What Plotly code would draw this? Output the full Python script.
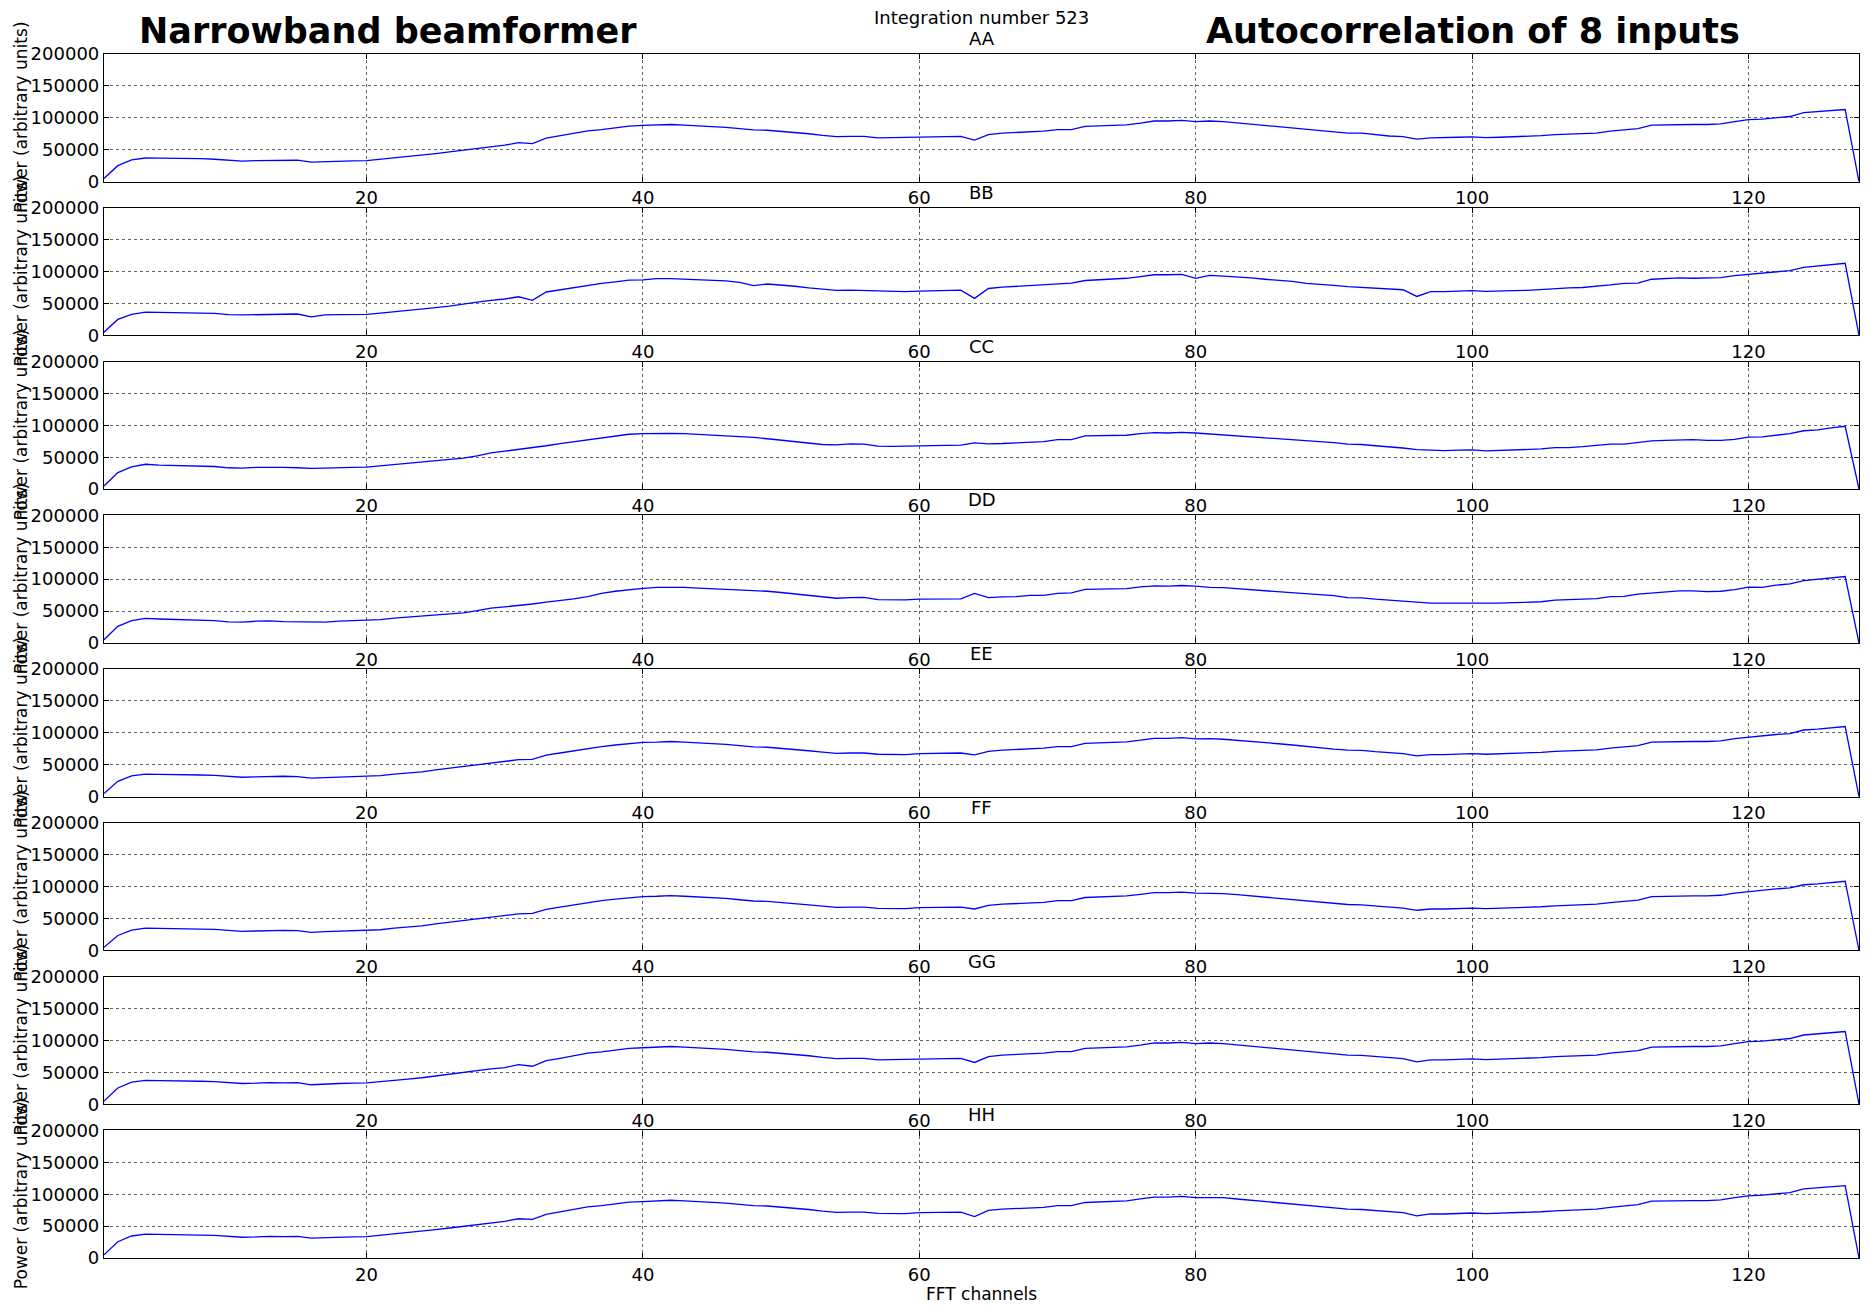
import plotly.graph_objects as go

channels = list(range(1, 129))
input_names = ["AA", "BB", "CC", "DD", "EE", "FF", "GG", "HH"]
y_ticks = [0, 50000, 100000, 150000, 200000]
x_ticks = [20, 40, 60, 80, 100, 120]

AA = [5000, 25000, 34000, 37000, 36800, 36800, 36000, 36000, 35000, 33000, 32000, 33000, 33500, 33500, 33500, 30500,
      31500, 32000, 32500, 33000, 35000, 37500, 39000, 41000, 44000, 46500, 49000, 52500, 55000, 57000, 61000, 59500,
      68000, 71500, 75000, 79500, 81500, 84000, 87000, 88000, 88500, 89500, 88500, 87500, 86500, 85000, 83000, 81000,
      80500, 79000, 77500, 75000, 72500, 70500, 71000, 71000, 68500, 69000, 68500, 70000, 70000, 70500, 71000, 65000,
      73500, 76000, 77000, 79000, 79000, 81500, 81500, 86500, 87000, 88000, 89000, 91500, 95000, 95000, 96000, 94000,
      95000, 94000, 92000, 90000, 88000, 86500, 84000, 81500, 79500, 77500, 76000, 76000, 73500, 71500, 70500, 66500,
      68500, 68500, 69500, 70000, 69000, 69500, 70000, 71000, 72000, 73500, 74000, 74500, 76000, 79000, 81000, 83000,
      88500, 89000, 90000, 89500, 89500, 90500, 94000, 97000, 98000, 100500, 102000, 108000, 109500, 112000, 113000, 0]

BB = [5000, 25000, 33000, 36500, 36000, 36000, 35000, 35000, 34500, 32500, 32000, 32500, 33500, 33000, 33500, 29000,
      32000, 32500, 32500, 33000, 35000, 37000, 39000, 40500, 43500, 46000, 48500, 52000, 55000, 57000, 60500, 55000,
      68000, 71500, 75000, 79000, 81500, 84000, 86500, 87000, 89000, 89000, 88000, 87000, 86500, 85500, 83000, 78000,
      80500, 79000, 77000, 74500, 72000, 70500, 71000, 70500, 69000, 69000, 68500, 69500, 70000, 70500, 71000, 58000,
      73500, 75500, 77000, 78500, 79000, 81500, 82000, 86000, 87000, 88000, 89500, 92000, 95000, 95000, 95500, 89500,
      94000, 93000, 92000, 90000, 88000, 86500, 84500, 81500, 80500, 78500, 76500, 75500, 74500, 73000, 71500, 61000,
      68500, 68500, 69500, 70000, 69000, 70000, 70000, 70500, 72000, 73500, 74500, 75000, 76500, 79000, 81500, 82000,
      88000, 89000, 90000, 89500, 89500, 90500, 93500, 95500, 97500, 100500, 101500, 106500, 109000, 111500, 113000, 0]

CC = [5000, 26000, 35000, 39000, 37500, 37000, 36000, 36000, 35500, 33500, 33000, 34000, 34500, 34000, 33500, 32500,
      33000, 34000, 34000, 34500, 36500, 39500, 41000, 43000, 44500, 46500, 48500, 52000, 57000, 59500, 62000, 64500,
      68000, 71500, 74500, 78000, 81000, 84000, 86000, 87000, 87500, 87500, 87000, 86000, 85000, 83500, 82500, 81000,
      79000, 77000, 74500, 72000, 70000, 69500, 71000, 70500, 67500, 67000, 67500, 67500, 68000, 68500, 69000, 72500,
      71000, 71500, 72500, 74500, 74500, 77500, 77500, 83500, 83500, 83500, 84500, 87000, 88500, 88000, 89000, 88000,
      86500, 86000, 84500, 83000, 81000, 79000, 77500, 76000, 74500, 73000, 70500, 70000, 68000, 66500, 64500, 62000,
      61000, 60500, 61000, 61500, 60000, 60500, 61500, 62000, 63000, 65000, 65000, 66500, 68000, 70500, 70500, 73500,
      75500, 76500, 77500, 77500, 76500, 76500, 78000, 81500, 82000, 85000, 87000, 91500, 93000, 96000, 98500, 0]

DD = [5000, 26000, 35000, 38500, 37500, 37000, 36000, 36000, 35000, 33000, 32500, 34000, 34500, 33500, 33500, 33000,
      32500, 34000, 34500, 35000, 36500, 39000, 40500, 42000, 43500, 45500, 47000, 50500, 54500, 56500, 58500, 61000,
      64000, 66000, 69000, 72500, 77500, 81000, 83500, 85500, 87000, 87500, 87000, 86000, 85000, 84000, 83000, 82500,
      81000, 79000, 76500, 74000, 71500, 70000, 71000, 71500, 68000, 67500, 67500, 68500, 68500, 69000, 69000, 77500,
      71000, 72000, 72500, 74500, 74500, 77500, 78500, 84000, 84000, 84000, 85000, 88000, 89500, 89000, 90000, 89000,
      87000, 86500, 85000, 84000, 82000, 80500, 79000, 77000, 76000, 74000, 71000, 70500, 68500, 67000, 65500, 64500,
      62500, 62500, 62500, 62500, 61500, 62500, 63000, 63500, 64500, 67000, 67500, 68500, 69500, 72500, 73000, 76500,
      78500, 80000, 81500, 81500, 80500, 81000, 83500, 87500, 87000, 90500, 92500, 97500, 99500, 102500, 104000, 0]

EE = [5000, 24000, 32500, 35500, 35000, 35000, 34000, 34000, 33500, 31500, 30500, 31000, 32000, 32000, 31500, 29000,
      30000, 30500, 31000, 31500, 33000, 35500, 37000, 39000, 42000, 44500, 47000, 50000, 52500, 54500, 58000, 58500,
      65000, 68500, 72000, 76000, 78500, 81000, 83500, 85000, 85500, 86500, 85500, 84500, 83500, 82000, 80000, 78000,
      77500, 76000, 74500, 72000, 70000, 68000, 68500, 68500, 66500, 66500, 66000, 67500, 67500, 68000, 68500, 65500,
      71000, 73000, 74000, 76000, 76000, 78500, 78500, 83500, 84000, 85000, 86000, 88500, 91500, 91500, 92500, 90500,
      91000, 90000, 88500, 86500, 84500, 83000, 81000, 78500, 76500, 74500, 73000, 72500, 70500, 68500, 67500, 64000,
      66000, 66000, 67000, 67500, 66500, 67000, 67500, 68500, 69500, 71000, 71500, 72000, 73500, 76000, 78000, 80000,
      85500, 86000, 87000, 86500, 86500, 87500, 91000, 93500, 95000, 97500, 99000, 104500, 106000, 108500, 110000, 0]

FF = [5000, 23500, 32000, 35000, 34500, 34500, 33500, 33500, 33000, 31000, 30000, 30500, 31500, 31500, 31000, 28500,
      29500, 30000, 30500, 31000, 32500, 35000, 36500, 38500, 41500, 44000, 46500, 49500, 52000, 54000, 57500, 58000,
      64500, 68000, 71500, 75500, 78000, 80500, 83000, 84500, 85000, 86000, 85000, 84000, 83000, 81500, 79500, 77500,
      77000, 75500, 74000, 71500, 69500, 67500, 68000, 68000, 66000, 66000, 65500, 67000, 67000, 67500, 68000, 65000,
      70500, 72500, 73500, 75500, 75500, 78000, 78000, 83000, 83500, 84500, 85500, 88000, 90500, 90500, 91500, 90000,
      90000, 89000, 87500, 85500, 83500, 82000, 80000, 77500, 75500, 73500, 72000, 71500, 69500, 67500, 66500, 63000,
      65000, 65000, 66000, 66500, 65500, 66000, 66500, 67500, 68500, 70000, 70500, 71000, 72500, 75000, 77000, 79000,
      84500, 85000, 86000, 85500, 85500, 86500, 90000, 92500, 94000, 96500, 98000, 103000, 104500, 107000, 108500, 0]

GG = [5000, 25500, 34500, 37500, 37000, 37000, 36500, 36000, 35500, 33500, 32500, 33000, 34000, 33500, 34000, 30500,
      32000, 32500, 33000, 33500, 35500, 38000, 39500, 41500, 44500, 47000, 49500, 53000, 55500, 57500, 62000, 59500,
      68500, 72000, 75500, 80000, 82000, 85000, 87500, 88500, 89500, 90500, 89500, 88500, 87500, 86000, 84000, 82000,
      81500, 80000, 78500, 76000, 73500, 71500, 72000, 72000, 69500, 70000, 69500, 71000, 71000, 71500, 72000, 65500,
      74500, 77000, 78000, 80000, 80000, 82500, 82500, 87500, 88000, 89000, 90000, 92500, 96000, 96000, 97000, 95000,
      96000, 95000, 93000, 91000, 89000, 87500, 85000, 82500, 80500, 78500, 77000, 76500, 74500, 72500, 71500, 66500,
      69500, 69500, 70500, 71000, 70000, 70500, 71000, 72000, 73000, 74500, 75000, 75500, 77000, 80000, 82000, 84000,
      89500, 90000, 91000, 90500, 90500, 91500, 95000, 98000, 99000, 101500, 103000, 108500, 110000, 112500, 114000, 0]

HH = [5000, 25500, 34500, 37500, 37000, 37000, 36500, 36000, 35500, 33500, 32500, 33000, 34000, 33500, 34000, 31000,
      32000, 32500, 33000, 33500, 35500, 38000, 39500, 41500, 44500, 47000, 49500, 53000, 55500, 57500, 61500, 60500,
      68500, 72000, 75500, 80000, 82000, 85000, 87500, 88500, 89500, 90500, 89500, 88500, 87500, 86000, 84000, 82000,
      81500, 80000, 78500, 76000, 73500, 71500, 72000, 72000, 70000, 70000, 69500, 71000, 71000, 71500, 72000, 65000,
      74500, 76500, 77500, 79500, 79500, 82000, 82000, 87000, 87500, 88500, 89500, 92500, 95500, 95500, 96500, 94500,
      95000, 94500, 92500, 90500, 88500, 87000, 84500, 82000, 80000, 78000, 76500, 76000, 74000, 72000, 71000, 66000,
      69000, 69000, 70000, 70500, 69500, 70000, 70500, 71500, 72500, 74000, 74500, 75000, 76500, 79500, 81500, 83500,
      89000, 89500, 90500, 90000, 90000, 91000, 94500, 97500, 98500, 101000, 102500, 108500, 110000, 112500, 113500, 0]

series = [AA, BB, CC, DD, EE, FF, GG, HH]

# page body has an 8px margin; size the figure so the plot lands where the reference has it
OFF = 8
W, H = 1870 - OFF, 1307 - OFF
ML, MR, MT, MB = 104 - OFF, 11, 54 - OFF, 49
plot_w = W - ML - MR
plot_h = H - MT - MB
panel_h = 127.6
period = (plot_h - panel_h) / 7

FONT = "DejaVu Sans, Liberation Sans, sans-serif"
fig = go.Figure()
layout = dict(
    width=W, height=H,
    margin=dict(l=ML, r=MR, t=MT, b=MB),
    paper_bgcolor="white", plot_bgcolor="white",
    showlegend=False,
    font=dict(family=FONT, size=18, color="black"),
)
annotations = []
for i, (name, vals) in enumerate(zip(input_names, series)):
    n = i + 1
    xa = "x" if n == 1 else f"x{n}"
    ya = "y" if n == 1 else f"y{n}"
    top_px = i * period
    bot_px = top_px + panel_h
    d_top = min(1.0, max(0.0, 1 - top_px / plot_h))
    d_bot = min(1.0, max(0.0, 1 - bot_px / plot_h))
    fig.add_trace(go.Scatter(x=channels, y=vals, mode="lines",
                             line=dict(color="#0000ff", width=1.3),
                             xaxis=xa, yaxis=ya, hoverinfo="skip"))
    xkey = "xaxis" if n == 1 else f"xaxis{n}"
    ykey = "yaxis" if n == 1 else f"yaxis{n}"
    layout[xkey] = dict(
        domain=[0, 1], anchor=ya, range=[1, 128],
        tickvals=x_ticks, ticks="inside", ticklen=5, tickcolor="black",
        showline=True, mirror="ticks", linecolor="black", linewidth=1.2,
        showgrid=True, gridcolor="rgba(0,0,0,0.6)", gridwidth=1, griddash="dot",
        zeroline=False, tickfont=dict(size=18),
    )
    layout[ykey] = dict(
        domain=[d_bot, d_top], anchor=xa, range=[0, 200000],
        tickvals=y_ticks, tickformat="d", ticks="inside", ticklen=5, tickcolor="black",
        showline=True, mirror="ticks", linecolor="black", linewidth=1.2,
        showgrid=True, gridcolor="rgba(0,0,0,0.6)", gridwidth=1, griddash="dot",
        zeroline=False, tickfont=dict(size=18),
    )
    annotations.append(dict(text=name, xref="paper", x=0.5, yref=f"{ya} domain", y=1,
                            yanchor="bottom", xanchor="center", yshift=3, showarrow=False,
                            font=dict(size=18)))
    annotations.append(dict(text="Power (arbitrary units)", xref="paper", x=(21 - 104) / plot_w,
                            yref=f"{ya} domain", y=0.5, textangle=-90, xanchor="center",
                            yanchor="middle", showarrow=False, font=dict(size=17)))

annotations.append(dict(text="Integration number 523", xref="paper", x=0.5, yref="y domain", y=1,
                        yanchor="bottom", yshift=24, showarrow=False, font=dict(size=18)))
annotations.append(dict(text="FFT channels", xref="paper", x=0.5, yref="paper",
                        y=-(1294 - 1258) / plot_h, yanchor="middle", showarrow=False,
                        font=dict(size=17)))
title_y = 1 + (MT - (31 - OFF)) / plot_h
for txt, cx in [("<b>Narrowband beamformer</b>", 388), ("<b>Autocorrelation of 8 inputs</b>", 1473)]:
    annotations.append(dict(text=txt, xref="paper", x=(cx - 104) / plot_w,
                            yref="paper", y=title_y, xanchor="center", yanchor="middle",
                            showarrow=False,
                            font=dict(family="DejaVu Sans, sans-serif", size=35)))
layout["annotations"] = annotations
fig.update_layout(**layout)
fig.write_html("out.html", config={"displayModeBar": False})
